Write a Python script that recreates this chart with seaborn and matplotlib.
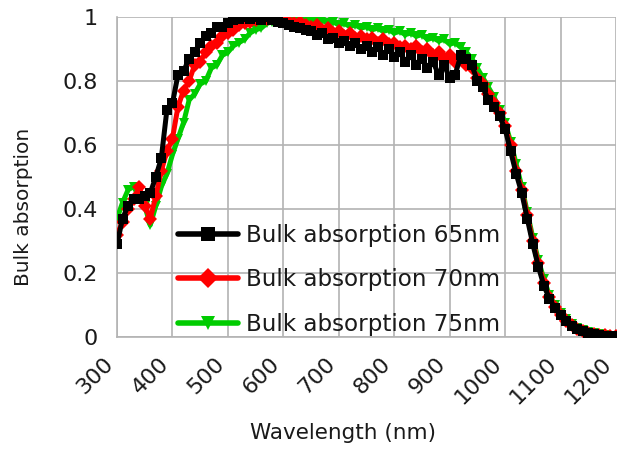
import numpy as np
import pandas as pd
import matplotlib
matplotlib.use("Agg")
import matplotlib.pyplot as plt
import seaborn as sns

# Wavelength grid (nm)
wavelength = list(range(300, 1201, 10))

# Bulk absorption for the three layer thicknesses
abs_65nm = [
    0.29, 0.37, 0.41, 0.43, 0.43, 0.44, 0.45, 0.50, 0.56, 0.71,
    0.73, 0.82, 0.83, 0.87, 0.89, 0.92, 0.94, 0.95, 0.97, 0.97,
    0.98, 0.99, 0.995, 1.0, 0.995, 1.0, 0.99, 1.0, 0.99, 0.985,
    0.98, 0.975, 0.97, 0.965, 0.96, 0.955, 0.945, 0.95, 0.93, 0.935,
    0.92, 0.925, 0.91, 0.92, 0.90, 0.91, 0.89, 0.905, 0.88, 0.90,
    0.875, 0.89, 0.86, 0.88, 0.85, 0.87, 0.84, 0.86, 0.82, 0.85,
    0.81, 0.82, 0.88, 0.87, 0.85, 0.80, 0.78, 0.74, 0.72, 0.69,
    0.65, 0.58, 0.51, 0.45, 0.37, 0.29, 0.22, 0.16, 0.12, 0.09,
    0.07, 0.05, 0.035, 0.025, 0.018, 0.013, 0.009, 0.006, 0.004, 0.003,
    0.002,
]
abs_70nm = [
    0.32, 0.36, 0.40, 0.43, 0.47, 0.41, 0.37, 0.44, 0.52, 0.58,
    0.62, 0.72, 0.77, 0.80, 0.85, 0.86, 0.89, 0.91, 0.92, 0.94,
    0.95, 0.96, 0.975, 0.98, 0.985, 0.99, 1.0, 0.995, 1.0, 0.99,
    0.99, 0.985, 0.98, 0.985, 0.975, 0.97, 0.975, 0.96, 0.965, 0.95,
    0.955, 0.94, 0.95, 0.935, 0.94, 0.93, 0.935, 0.92, 0.93, 0.915,
    0.92, 0.905, 0.91, 0.90, 0.91, 0.89, 0.90, 0.88, 0.89, 0.87,
    0.88, 0.86, 0.87, 0.85, 0.84, 0.81, 0.79, 0.76, 0.73, 0.70,
    0.66, 0.60, 0.52, 0.46, 0.38, 0.30, 0.23, 0.17, 0.125, 0.095,
    0.07, 0.05, 0.036, 0.026, 0.019, 0.014, 0.010, 0.007, 0.005, 0.003,
    0.002,
]
abs_75nm = [
    0.37, 0.42, 0.46, 0.47, 0.44, 0.41, 0.35, 0.41, 0.47, 0.51,
    0.57, 0.62, 0.67, 0.74, 0.76, 0.79, 0.80, 0.84, 0.85, 0.88,
    0.89, 0.91, 0.92, 0.93, 0.95, 0.96, 0.965, 0.98, 0.985, 0.99,
    1.0, 0.995, 1.0, 0.995, 0.99, 0.995, 0.985, 0.99, 0.98, 0.985,
    0.975, 0.98, 0.97, 0.975, 0.965, 0.97, 0.96, 0.965, 0.955, 0.96,
    0.95, 0.955, 0.945, 0.95, 0.94, 0.945, 0.93, 0.935, 0.925, 0.93,
    0.915, 0.92, 0.905, 0.89, 0.87, 0.84, 0.81, 0.78, 0.75, 0.71,
    0.67, 0.61, 0.54, 0.47, 0.39, 0.31, 0.24, 0.18, 0.13, 0.10,
    0.075, 0.055, 0.04, 0.029, 0.021, 0.015, 0.011, 0.008, 0.006, 0.004,
    0.003,
]

series_names = ["Bulk absorption 65nm", "Bulk absorption 70nm", "Bulk absorption 75nm"]
series_values = [abs_65nm, abs_70nm, abs_75nm]
series_colors = ["#000000", "#ff0000", "#00cc00"]
series_markers = ["s", "D", "v"]

x_ticks = [300, 400, 500, 600, 700, 800, 900, 1000, 1100, 1200]
y_ticks = [0, 0.2, 0.4, 0.6, 0.8, 1.0]
y_tick_labels = ["0", "0.2", "0.4", "0.6", "0.8", "1"]

frames = [
    pd.DataFrame({"Wavelength": wavelength, "Absorption": vals, "Series": name})
    for name, vals in zip(series_names, series_values)
]
df = pd.concat(frames, ignore_index=True)

sns.set_style("white")
plt.rcParams["font.family"] = ["DejaVu Sans"]

fig = plt.figure(figsize=(6.18, 4.54), dpi=100)
ax = fig.add_axes([117 / 618, 1 - 337 / 454, (616 - 117) / 618, (337 - 17) / 454])

grid_col = "#b3b3b3"
text_col = "#1a1a1a"
# thickest sample drawn last so it sits on top
draw_order = series_names[::-1]
sns.lineplot(
    data=df, x="Wavelength", y="Absorption", hue="Series", style="Series",
    hue_order=draw_order, style_order=draw_order,
    palette=dict(zip(series_names, series_colors)),
    markers=dict(zip(series_names, series_markers)),
    dashes=False, linewidth=3.6, markersize=7.5, markeredgewidth=0,
    ax=ax, legend=True, zorder=3,
)

ax.set_xlim(300, 1200)
ax.set_ylim(0, 1)
ax.set_xticks(x_ticks)
ax.set_xticklabels([str(t) for t in x_ticks], rotation=45, ha="right",
                   va="bottom", rotation_mode="anchor", fontsize=16,
                   color=text_col)
ax.set_yticks(y_ticks)
ax.set_yticklabels(y_tick_labels, fontsize=16, color=text_col)
ax.grid(True, color=grid_col, linewidth=1.2, zorder=0)
ax.set_axisbelow(True)
for side in ["top", "right"]:
    ax.spines[side].set_visible(False)
for side in ["left", "bottom"]:
    ax.spines[side].set_color(grid_col)
    ax.spines[side].set_linewidth(1.2)
ax.tick_params(axis="both", which="major", length=9, width=1.2, color=grid_col,
               direction="out", pad=5)
ax.tick_params(axis="x", pad=13)

ax.set_xlabel("Wavelength (nm)", fontsize=15.5, color=text_col)
ax.set_ylabel("Bulk absorption", fontsize=14.5, color=text_col)
ax.xaxis.set_label_coords(0.453, -0.27)
ax.yaxis.set_label_coords(-0.168, 0.406)

handles, labels = ax.get_legend_handles_labels()
order = [labels.index(n) for n in series_names]
leg = ax.legend(
    [handles[i] for i in order], [labels[i] for i in order],
    loc="lower left", bbox_to_anchor=(0.122, 0.004), frameon=False,
    fontsize=16.6, handlelength=2.6, handletextpad=0.35, labelspacing=0.93,
    borderpad=0, borderaxespad=0, markerscale=1.4,
)
for txt in leg.get_texts():
    txt.set_color(text_col)
for line in leg.get_lines():
    line.set_linewidth(4)

fig.savefig("out.png", dpi=100)
